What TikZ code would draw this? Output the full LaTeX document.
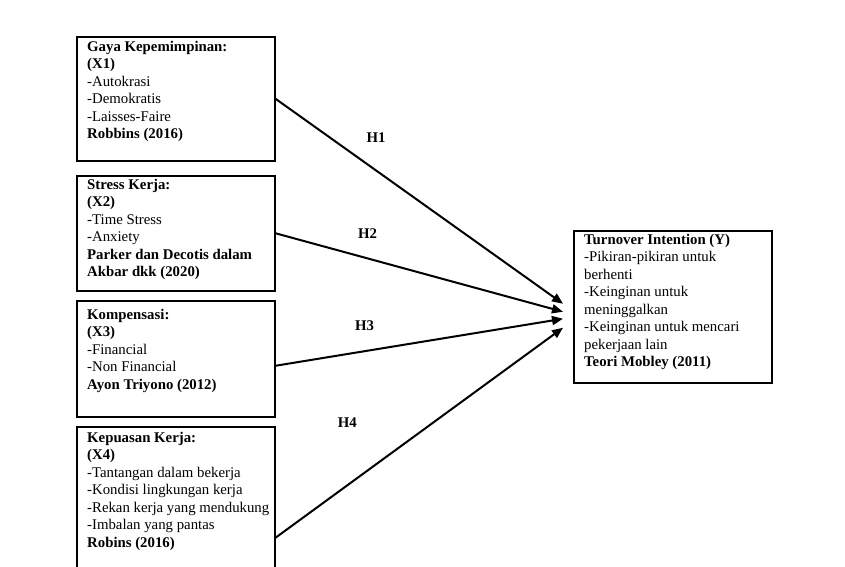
\documentclass[tikz,border=0pt]{standalone}
\usepackage{fontspec}
\setmainfont{Liberation Serif}
\usetikzlibrary{arrows.meta}

\begin{document}
\begin{tikzpicture}[x=1pt, y=-1pt,
    frame/.style={draw, line width=1.5pt, anchor=north west, minimum width=198pt, inner sep=0pt},
    txt/.style={anchor=north west, align=left, inner sep=0pt, font=\fontsize{14.8}{17.5}\selectfont},
    hyp/.style={inner sep=0pt, font=\fontsize{14.8}{17.5}\selectfont\bfseries},
    link/.style={line width=2pt, -{Triangle[length=11pt,width=9pt]}}]
    \useasboundingbox (0,0) rectangle (845,566);

    % variabel bebas
    \node[frame, minimum height=124pt] (x1) at (76,36) {};
    \node[txt] (x1t) at ([shift={(11pt,-5pt)}]x1.north west)
        {\textbf{Gaya Kepemimpinan:}\\ \textbf{(X1)}\\ -Autokrasi\\ -Demokratis\\ -Laisses-Faire\\ \textbf{Robbins (2016)}};
    \node[frame, minimum height=115pt] (x2) at (76,175) {};
    \node[txt] (x2t) at ([shift={(11pt,-4pt)}]x2.north west)
        {\textbf{Stress Kerja:}\\ \textbf{(X2)}\\ -Time Stress\\ -Anxiety\\ \textbf{Parker dan Decotis dalam}\\ \textbf{Akbar dkk (2020)}};
    \node[frame, minimum height=116pt] (x3) at (76,300) {};
    \node[txt] (x3t) at ([shift={(11pt,-9pt)}]x3.north west)
        {\textbf{Kompensasi:}\\ \textbf{(X3)}\\ -Financial\\ -Non Financial\\ \textbf{Ayon Triyono (2012)}};
    \node[frame, minimum height=222pt] (x4) at (76,426) {};
    \node[txt] (x4t) at ([shift={(11pt,-6pt)}]x4.north west)
        {\textbf{Kepuasan Kerja:}\\ \textbf{(X4)}\\ -Tantangan dalam bekerja\\ -Kondisi lingkungan kerja\\ -Rekan kerja yang mendukung\\ -Imbalan yang pantas\\ \textbf{Robins (2016)}};

    % variabel terikat
    \node[frame, minimum height=152pt] (y) at (573,230) {};
    \node[txt] (yt) at ([shift={(11pt,-4pt)}]y.north west)
        {\textbf{Turnover Intention (Y)}\\ -Pikiran-pikiran untuk\\ berhenti\\ -Keinginan untuk\\ meninggalkan\\ -Keinginan untuk mencari\\ pekerjaan lain\\ \textbf{Teori Mobley (2011)}};

    \draw[link] (x1.east) -- ([xshift=-10pt,yshift=3pt]y.west) node[hyp, pos=0.35, above=27pt] {H1};
    \draw[link] (x2.east) -- ([xshift=-10pt,yshift=-5pt]y.west) node[hyp, pos=0.32, above=19pt] {H2};
    \draw[link] ([yshift=-7pt]x3.east) -- ([xshift=-10pt,yshift=-12pt]y.west) node[hyp, pos=0.31, above=20pt] {H3};
    \draw[link] (x4.east) -- ([xshift=-10pt,yshift=-21pt]y.west) node[hyp, pos=0.25, above=57pt] {H4};

\end{tikzpicture}
\end{document}
